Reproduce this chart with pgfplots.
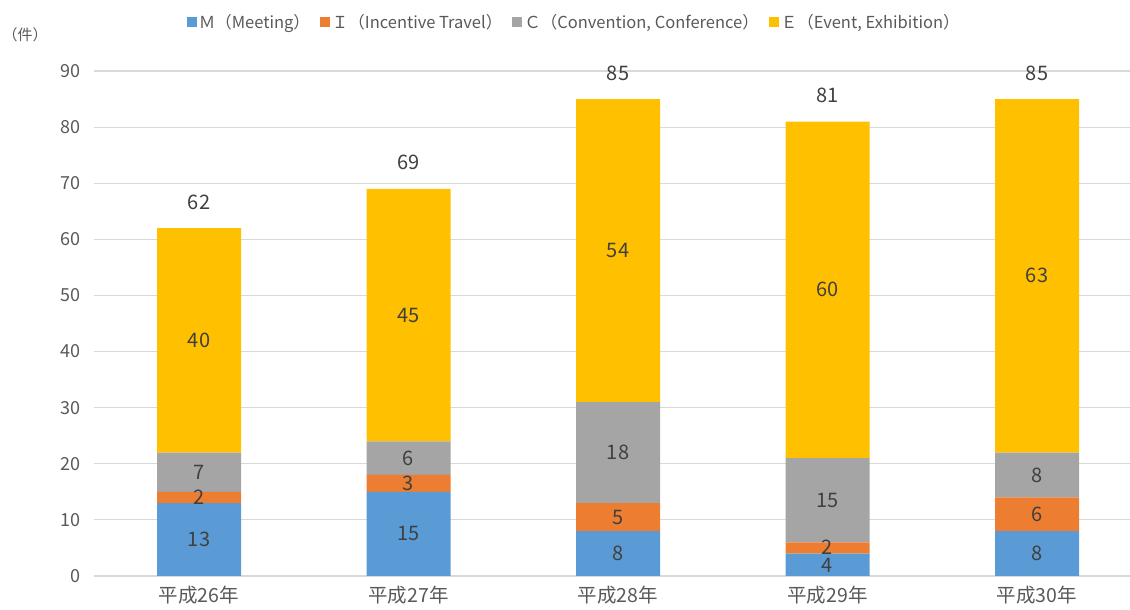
\documentclass[border=0pt]{standalone}
\usepackage{fontspec}
\setmainfont{Noto Sans CJK JP}
\usepackage{pgfplots}
\pgfplotsset{compat=1.18}
\definecolor{cM}{HTML}{5B9BD5}
\definecolor{cI}{HTML}{ED7D31}
\definecolor{cC}{HTML}{A5A5A5}
\definecolor{cE}{HTML}{FFC000}
\definecolor{txt}{HTML}{595959}
\definecolor{lab}{HTML}{404040}
\definecolor{grd}{HTML}{D9D9D9}
\begin{document}
\begin{tikzpicture}
\useasboundingbox (0,0) rectangle (1130pt,610pt);
\pgfplotsset{
 base/.style={
  at={(94.25pt,34pt)}, anchor=south west, scale only axis,
  width=1035.75pt, height=505pt,
  xmin=-0.5, xmax=4.444, ymin=0, ymax=90,
 },
 sq/.style={legend image code/.code={\fill[#1] (0pt,-5pt) rectangle (10pt,5pt);}}
}
\begin{axis}[base,
  ybar stacked, bar width=84pt,
  axis line style={draw=none},
  major tick length=0,
  ytick={0,10,...,90},
  ymajorgrids, grid style={grd, line width=1.2pt},
  xtick={0,...,4},
  xticklabels={平成26年,平成27年,平成28年,平成29年,平成30年},
  yticklabel style={font=\fontsize{18}{21}\selectfont, text=txt, xshift=-10pt},
  xticklabel style={font=\fontsize{19.5}{23}\selectfont, text=txt, yshift=-7pt},
  /pgf/number format/assume math mode=true,
  legend columns=4,
  legend style={at={(axis description cs:0.4634,1.097)}, anchor=center, draw=none, fill=none,
    font=\fontsize{16.5}{19}\selectfont, text=txt,
    /tikz/every even column/.append style={column sep=8pt}},
  legend cell align=left,
]
\addplot[fill=cM, draw=none, sq] coordinates {(0,13) (1,15) (2,8) (3,4) (4,8)};
\addplot[fill=cI, draw=none, sq] coordinates {(0,2) (1,3) (2,5) (3,2) (4,6)};
\addplot[fill=cC, draw=none, sq] coordinates {(0,7) (1,6) (2,18) (3,15) (4,8)};
\addplot[fill=cE, draw=none, sq] coordinates {(0,40) (1,45) (2,54) (3,60) (4,63)};
\legend{Ｍ（Meeting）, Ｉ（Incentive Travel）, Ｃ（Convention{,} Conference）, Ｅ（Event{,} Exhibition）}
\end{axis}
\begin{axis}[base, hide axis, clip=false,
  nodes near coords, point meta=explicit symbolic, nodes near coords align=center,
  every node near coord/.append style={font=\fontsize{20}{24}\selectfont, text=lab, inner sep=0.5pt}]
\addplot[draw=none, mark=none] coordinates {
 (0,6.5)[13] (0,14)[2] (0,18.5)[7] (0,42)[40]
 (1,7.5)[15] (1,16.5)[3] (1,21)[6] (1,46.5)[45]
 (2,4)[8] (2,10.5)[5] (2,22)[18] (2,58)[54]
 (3,1.85)[4] (3,5.15)[2] (3,13.5)[15] (3,51)[60]
 (4,4)[8] (4,11)[6] (4,18)[8] (4,53.5)[63]};
\addplot[draw=none, mark=none, every node near coord/.append style={yshift=26pt}] coordinates {
 (0,62)[62] (1,69)[69] (2,85)[85] (3,81)[81] (4,85)[85]};
\end{axis}
\node[font=\fontsize{15}{18}\selectfont, text=txt] at (25pt,575pt) {（件）};
\end{tikzpicture}
\end{document}
